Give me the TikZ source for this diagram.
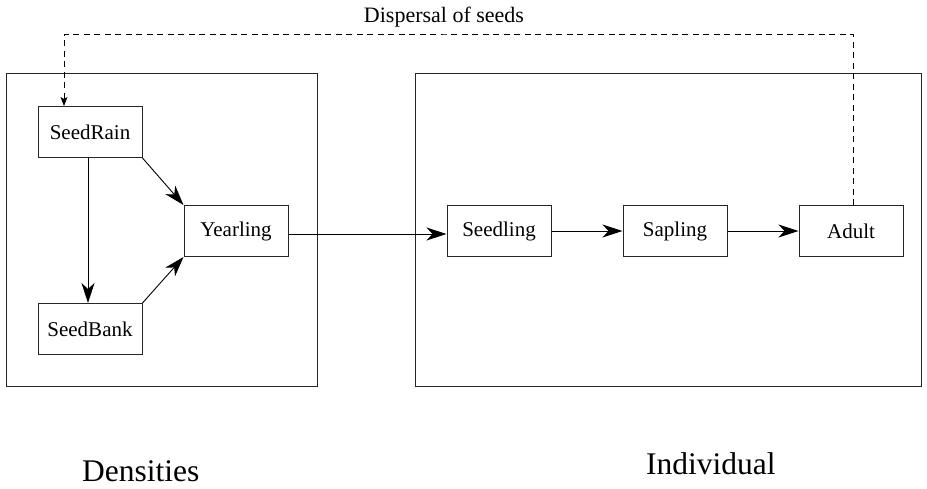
\documentclass[tikz,border=0pt]{standalone}
\usepackage{fontspec}
\setmainfont{Liberation Serif}
\usetikzlibrary{arrows.meta}
\begin{document}
\begin{tikzpicture}[x=1pt,y=-1pt,
  frame/.style={draw=black!85,line width=1pt},
  stagebox/.style={draw=black!85,line width=1pt,minimum width=104pt,minimum height=51pt,inner sep=0pt,font=\fontsize{21}{24}\selectfont},
  flow/.style={line width=0.9pt,-{Stealth[length=20pt,width=13pt,inset=6pt]}},
  disperse/.style={line width=0.9pt,dash pattern=on 6pt off 4.5pt,-{Stealth[length=9pt,width=7pt,inset=2pt]}},
  bigtext/.style={font=\fontsize{31.5}{36}\selectfont,inner sep=0pt,anchor=base west},
  lbltext/.style={font=\fontsize{22}{26}\selectfont,inner sep=0pt,anchor=base}]
\useasboundingbox[fill=white] (0,0) rectangle (927,488);
% frames
\draw[frame] (6,73) rectangle (317,386);
\draw[frame] (415,73) rectangle (921,386);
% stage nodes
\node[stagebox] (rain) at (90,132) {SeedRain};
\node[stagebox] (bank) at (90,329) {SeedBank};
\node[stagebox] (year) at (236,231) {Yearling};
\node[stagebox] (seedl) at (499,231) {Seedling};
\node[stagebox] (sapl) at (675,231) {Sapling};
\node[stagebox] (adult) at (851,231) {Adult};
% connectors
\draw[flow] ([xshift=-2pt]rain.south) -- ([xshift=-2pt]bank.north);
\draw[flow] (rain.south east) -- (year.north west);
\draw[flow] (bank.north east) -- (year.south west);
\draw[flow] ([yshift=-3pt]year.east) -- ([yshift=-3pt]seedl.west);
\draw[flow] (seedl.east) -- (sapl.west);
\draw[flow] (sapl.east) -- (adult.west);
% dispersal
\coordinate (corner) at (444,34);
\coordinate (rainin) at ([xshift=-26pt]rain.north);
\draw[disperse] ([xshift=2pt]adult.north) |- (corner) -| (rainin);
\node[lbltext] (lbl) at (444,22) {Dispersal of seeds};
% bottom labels
\node[bigtext] (dens) at (82,481) {Densities};
\node[bigtext] (indiv) at (646,474) {Individual};
\end{tikzpicture}
\end{document}
